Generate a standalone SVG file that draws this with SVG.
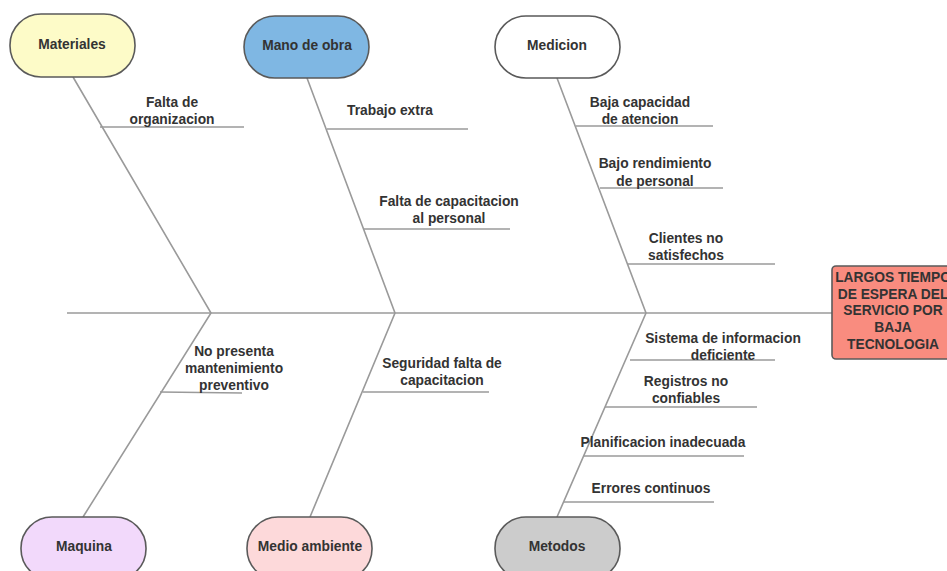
<svg xmlns="http://www.w3.org/2000/svg" width="947" height="571" viewBox="0 0 947 571">
<style>
.n{stroke:#5a5a5a;stroke-width:1.6}
.l{stroke:#9a9a9a;stroke-width:1.6;fill:none}
text{font-family:"Liberation Sans",Arial,sans-serif;font-weight:bold;font-size:13.8px;fill:#333;text-anchor:middle}
</style>
<rect width="947" height="571" fill="#fff"/>
<g id="connectors">
<line class="l" x1="67" y1="313" x2="832" y2="313"/>
<polyline class="l" points="73,77 211,313 83,517"/>
<polyline class="l" points="307,78 395,313 310,517"/>
<polyline class="l" points="557,78 646,313 557,517"/>
<line class="l" x1="100" y1="127" x2="244" y2="127"/>
<line class="l" x1="327" y1="129" x2="468" y2="129"/>
<line class="l" x1="364" y1="229" x2="510" y2="229"/>
<line class="l" x1="576" y1="126" x2="713" y2="126"/>
<line class="l" x1="600" y1="188" x2="723" y2="188"/>
<line class="l" x1="627" y1="264" x2="775" y2="264"/>
<line class="l" x1="160" y1="392" x2="242" y2="393"/>
<line class="l" x1="363" y1="392" x2="489" y2="392"/>
<line class="l" x1="630" y1="360" x2="775" y2="360"/>
<line class="l" x1="605" y1="407" x2="757" y2="407"/>
<line class="l" x1="584" y1="456" x2="744" y2="456"/>
<line class="l" x1="564" y1="502" x2="714" y2="502"/>
</g>
<g id="labels">
<text x="172" y="107">Falta de</text><text x="172" y="124">organizacion</text>
<text x="390" y="115">Trabajo extra</text>
<text x="449" y="206">Falta de capacitacion</text><text x="449" y="223">al personal</text>
<text x="640" y="107">Baja capacidad</text><text x="640" y="124">de atencion</text>
<text x="655" y="168">Bajo rendimiento</text><text x="655" y="186">de personal</text>
<text x="686" y="243">Clientes no</text><text x="686" y="260">satisfechos</text>
<text x="234" y="356">No presenta</text><text x="234" y="373">mantenimiento</text><text x="234" y="390">preventivo</text>
<text x="442" y="368">Seguridad falta de</text><text x="442" y="385">capacitacion</text>
<text x="723" y="343">Sistema de informacion</text><text x="723" y="360">deficiente</text>
<text x="686" y="386">Registros no</text><text x="686" y="403">confiables</text>
<text x="663" y="447">Planificacion inadecuada</text>
<text x="651" y="493">Errores continuos</text>
</g>
<g id="materiales"><rect class="n" x="10" y="14" width="125" height="63" rx="31" fill="#fdfbc8"/><text x="72" y="49">Materiales</text></g>
<g id="mano-de-obra"><rect class="n" x="244" y="16" width="125" height="62" rx="31" fill="#7fb7e3"/><text x="307" y="50">Mano de obra</text></g>
<g id="medicion"><rect class="n" x="495" y="16" width="125" height="62" rx="31" fill="#fff"/><text x="557" y="50">Medicion</text></g>
<g id="maquina"><rect class="n" x="21" y="517" width="125" height="63" rx="31" fill="#f2d9fb"/><text x="84" y="551">Maquina</text></g>
<g id="medio-ambiente"><rect class="n" x="247" y="517" width="125" height="63" rx="31" fill="#fdd9da"/><text x="310" y="551">Medio ambiente</text></g>
<g id="metodos"><rect class="n" x="495" y="517" width="125" height="63" rx="31" fill="#cccccc"/><text x="557" y="551">Metodos</text></g>
<g id="efecto"><rect class="n" x="832" y="266" width="122" height="93" rx="4" fill="#f98c7f"/>
<text x="893" y="282">LARGOS TIEMPO</text><text x="893" y="299">DE ESPERA DEL</text><text x="893" y="315">SERVICIO POR</text><text x="893" y="332">BAJA</text><text x="893" y="349">TECNOLOGIA</text></g>
</svg>
